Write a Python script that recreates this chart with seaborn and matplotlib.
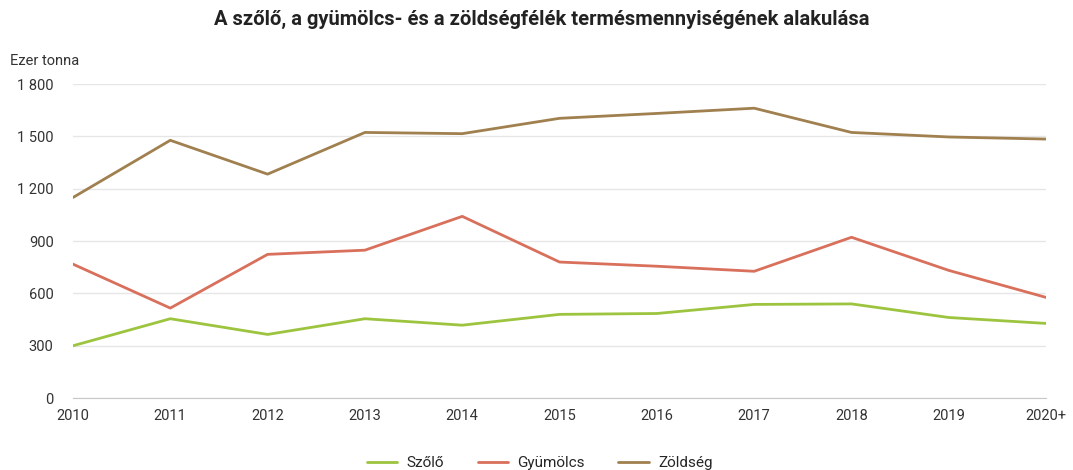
import matplotlib
matplotlib.use("Agg")
import matplotlib.pyplot as plt
import seaborn as sns
import pandas as pd

years = [2010, 2011, 2012, 2013, 2014, 2015, 2016, 2017, 2018, 2019, 2020]
year_labels = ["2010", "2011", "2012", "2013", "2014", "2015", "2016", "2017", "2018", "2019", "2020+"]
szolo = [300, 455, 365, 455, 418, 480, 485, 537, 540, 462, 428]
gyumolcs = [768, 516, 824, 848, 1042, 780, 756, 727, 922, 732, 577]
zoldseg = [1150, 1478, 1284, 1523, 1516, 1604, 1632, 1662, 1523, 1497, 1485]
series = ["Szőlő", "Gyümölcs", "Zöldség"]
colors = ["#9dc43f", "#d8705c", "#a0804f"]

df = pd.DataFrame({"Év": years, "Szőlő": szolo, "Gyümölcs": gyumolcs, "Zöldség": zoldseg})
long = df.melt(id_vars="Év", var_name="sor", value_name="ertek")

sns.set_style("white")
plt.rcParams["font.family"] = ["Roboto", "DejaVu Sans"]

fig = plt.figure(figsize=(10.73, 4.7), dpi=100)
ax = fig.add_axes([0.068, 0.153, 0.907, 0.668])

sns.lineplot(data=long, x="Év", y="ertek", hue="sor", hue_order=series,
             palette=colors, linewidth=2, ax=ax, legend=False)

ax.set_xlim(2010, 2020)
ax.set_ylim(0, 1800)
ax.set_xticks(years)
ax.set_xticklabels(year_labels)
yt = [0, 300, 600, 900, 1200, 1500, 1800]
ax.set_yticks(yt)
ax.set_yticklabels([f"{v:,}".replace(",", " ") for v in yt])
ax.grid(axis="y", color="#e6e6e6", linewidth=1)
ax.set_axisbelow(True)
for s in ["top", "right", "left"]:
    ax.spines[s].set_visible(False)
ax.spines["bottom"].set_color("#c8c8c8")
ax.tick_params(axis="x", length=6, color="#c8c8c8", labelsize=10.5, labelcolor="#333333", pad=2)
ax.tick_params(axis="y", length=0, labelsize=10.5, labelcolor="#333333", pad=14)
ax.set_xlabel("")
ax.set_ylabel("")

fig.text(0.009, 0.862, "Ezer tonna", fontsize=10.5, color="#333333")
fig.text(0.505, 0.947, "A szőlő, a gyümölcs- és a zöldségfélék termésmennyiségének alakulása",
         ha="center", fontsize=14.5, fontweight="bold", color="#222222")

handles = [plt.Line2D([], [], color=c, linewidth=2) for c in colors]
fig.legend(handles, series, loc="lower center", bbox_to_anchor=(0.503, -0.03), ncol=3,
           frameon=False, fontsize=11, handlelength=2, columnspacing=2.2, handletextpad=0.6)

fig.savefig("out.png", dpi=100)
